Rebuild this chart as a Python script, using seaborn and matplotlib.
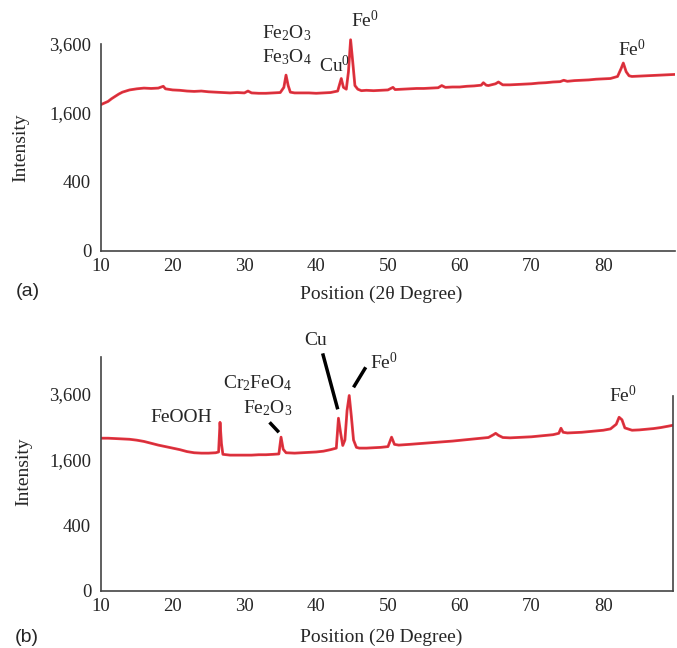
import numpy as np
import pandas as pd
import matplotlib.pyplot as plt
import seaborn as sns

# --- dane (2θ, intensywność) ---
theta_a = [10, 10.5, 11, 11.5, 12, 12.5, 13, 13.5, 14, 15, 16, 17, 18, 18.7, 19, 20, 21, 22, 23, 24,
           25, 26, 27, 28, 29, 30, 30.5, 31, 32, 33, 34, 35, 35.5, 35.8, 36.1, 36.4, 37, 38, 39, 40,
           41, 42, 43, 43.5, 43.8, 44.2, 44.5, 44.8, 45.1, 45.4, 45.8, 46.3, 47, 48, 49, 50, 50.7, 51,
           52, 53, 54, 55, 56, 57, 57.5, 58, 59, 60, 61, 62, 63, 63.3, 63.7, 64, 65, 65.4, 66, 67, 68,
           69, 70, 71, 72, 73, 74, 74.5, 75, 76, 77, 78, 79, 80, 81, 82, 82.5, 82.8, 83.2, 83.6, 84,
           85, 86, 87, 88, 89, 90]
int_a = [1800, 1840, 1880, 1950, 2010, 2070, 2120, 2150, 2180, 2210, 2230, 2220, 2230, 2280, 2210, 2180,
         2170, 2150, 2140, 2150, 2130, 2120, 2110, 2100, 2110, 2100, 2150, 2100, 2090, 2090, 2100, 2110,
         2250, 2600, 2300, 2120, 2100, 2100, 2100, 2090, 2100, 2110, 2150, 2500, 2250, 2200, 2700, 3750,
         3000, 2300, 2200, 2160, 2170, 2160, 2170, 2180, 2250, 2190, 2200, 2210, 2220, 2220, 2230, 2240,
         2300, 2250, 2260, 2260, 2280, 2290, 2310, 2380, 2310, 2300, 2350, 2400, 2320, 2320, 2330, 2340,
         2350, 2370, 2380, 2400, 2410, 2450, 2420, 2440, 2450, 2460, 2480, 2490, 2500, 2560, 2800, 2970,
         2700, 2580, 2560, 2570, 2580, 2590, 2600, 2610, 2620]

theta_b = [10, 11, 12, 13, 14, 15, 16, 17, 18, 19, 20, 21, 22, 23, 24, 25, 26, 26.4, 26.6, 26.8, 27,
           28, 29, 30, 31, 32, 33, 34, 34.8, 35.1, 35.4, 35.8, 37, 38, 39, 40, 41, 42, 42.8, 43.1, 43.4,
           43.7, 44.0, 44.3, 44.6, 44.9, 45.2, 45.6, 46, 47, 48, 49, 50, 50.5, 50.9, 51.5, 53, 55, 57,
           59, 60, 61, 62, 63, 64, 64.7, 65, 65.4, 66, 67, 68, 69, 70, 71, 72, 73, 73.8, 74.1, 74.4, 75,
           76, 77, 78, 79, 80, 81, 81.8, 82.2, 82.6, 83, 84, 85, 86, 87, 88, 89, 89.7]
int_b = [2150, 2150, 2140, 2130, 2120, 2095, 2060, 2010, 1960, 1920, 1880, 1840, 1790, 1760, 1750, 1750,
         1760, 1780, 2620, 2000, 1720, 1700, 1700, 1700, 1700, 1710, 1710, 1720, 1730, 2180, 1850, 1760,
         1750, 1760, 1770, 1780, 1800, 1840, 1880, 2750, 2300, 1950, 2100, 3000, 3520, 2800, 2100, 1900,
         1880, 1880, 1890, 1900, 1920, 2180, 1980, 1960, 1980, 2010, 2040, 2070, 2090, 2110, 2130, 2150,
         2170, 2250, 2290, 2230, 2170, 2160, 2170, 2180, 2190, 2210, 2230, 2250, 2290, 2440, 2320, 2300,
         2310, 2320, 2340, 2360, 2380, 2420, 2560, 2780, 2700, 2450, 2380, 2390, 2410, 2430, 2460, 2500,
         2530]

y_ticks = [0, 400, 1600, 3600]
y_tick_labels = ['0', '400', '1,600', '3,600']
x_ticks = [10, 20, 30, 40, 50, 60, 70, 80]

# etykiety faz: (tekst, 2θ, intensywność)
labels_a = [(r'Fe$_\mathrm{2}$O$_\mathrm{3}$', 35.9, 4000),
            (r'Fe$_\mathrm{3}$O$_\mathrm{4}$', 35.9, 3160),
            (r'Cu$^\mathrm{0}$', 42.6, 2900),
            (r'Fe$^\mathrm{0}$', 46.8, 4480),
            (r'Fe$^\mathrm{0}$', 84.0, 3400)]
labels_b = [('FeOOH', 21.2, 2780),
            (r'Cr$_\mathrm{2}$FeO$_\mathrm{4}$', 31.8, 3970),
            (r'Fe$_\mathrm{2}$O$_\mathrm{3}$', 33.2, 3075),
            ('Cu', 39.9, 5785),
            (r'Fe$^\mathrm{0}$', 49.4, 4815),
            (r'Fe$^\mathrm{0}$', 82.8, 3530)]
# odcinki wskazujące piki w (b): (x0, y0, x1, y1)
pointers_b = [(33.5, 2620, 34.8, 2320),
              (40.9, 5200, 43.0, 3040),
              (46.9, 4610, 45.2, 3820)]

sns.set_theme(style='white')
plt.rcParams['font.family'] = ['Liberation Serif', 'DejaVu Serif']
plt.rcParams['mathtext.fontset'] = 'custom'
plt.rcParams['mathtext.rm'] = 'Liberation Serif'
plt.rcParams['mathtext.it'] = 'Liberation Serif:italic'

fig = plt.figure(figsize=(6.77, 6.48), dpi=100)
ax_a = fig.add_axes([0.149, 0.6127, 0.848, 0.3324])
ax_b = fig.add_axes([0.149, 0.088, 0.845, 0.361])

df_a = pd.DataFrame({'theta': theta_a, 'intensity': int_a})
df_b = pd.DataFrame({'theta': theta_b, 'intensity': int_b})

line_col = '#e8333f'
for ax, df, ytop, xr in [(ax_a, df_a, 3900, 90), (ax_b, df_b, 5041, 89.7)]:
    sns.lineplot(data=df, x='theta', y='intensity', ax=ax, color=line_col, lw=2.0)
    ax.plot(df['theta'], df['intensity'], color='#9a2a35', lw=0.4, alpha=0.6)
    ax.set_yscale('function', functions=(lambda v: np.sqrt(np.clip(v, 0, None)), lambda v: v ** 2))
    ax.set_ylim(0, ytop)
    ax.set_xlim(10, xr)
    ax.set_yticks(y_ticks)
    ax.set_yticklabels(y_tick_labels)
    ax.set_xticks(x_ticks)
    ax.minorticks_off()
    ax.tick_params(axis='y', length=5, width=1.2, color='#333333', labelsize=13.5, pad=2)
    ax.tick_params(axis='x', length=0, labelsize=13.5, pad=5)
    for s in ['top', 'right']:
        ax.spines[s].set_visible(False)
    for s in ['left', 'bottom']:
        ax.spines[s].set_color('#444444')
        ax.spines[s].set_linewidth(1.2)
    ax.set_ylabel('Intensity', fontsize=14)
    ax.set_xlabel('Position (2θ Degree)', fontsize=14)

ax_a.spines['left'].set_bounds(0, 3600)
ax_b.spines['right'].set_visible(True)
ax_b.spines['right'].set_color('#444444')
ax_b.spines['right'].set_linewidth(1.2)
ax_b.spines['right'].set_bounds(0, 3500)

ax_a.yaxis.set_label_coords(-0.125, 0.48)
ax_b.yaxis.set_label_coords(-0.12, 0.51)
ax_a.xaxis.set_label_coords(0.488, -0.16)
ax_b.xaxis.set_label_coords(0.49, -0.16)

for txt, x, y in labels_a:
    ax_a.text(x, y, txt, ha='center', va='center', fontsize=14, clip_on=False)
for txt, x, y in labels_b:
    ax_b.text(x, y, txt, ha='center', va='center', fontsize=14, clip_on=False)
for x0, y0, x1, y1 in pointers_b:
    ax_b.plot([x0, x1], [y0, y1], color='black', lw=2.5, clip_on=False, solid_capstyle='butt')

fig.text(28 / 677, 1 - 291 / 648, '(a)', family='Liberation Sans', fontsize=14, ha='center', va='center')
fig.text(27 / 677, 1 - 638 / 648, '(b)', family='Liberation Sans', fontsize=14, ha='center', va='center')

plt.savefig('out.png', dpi=100)
